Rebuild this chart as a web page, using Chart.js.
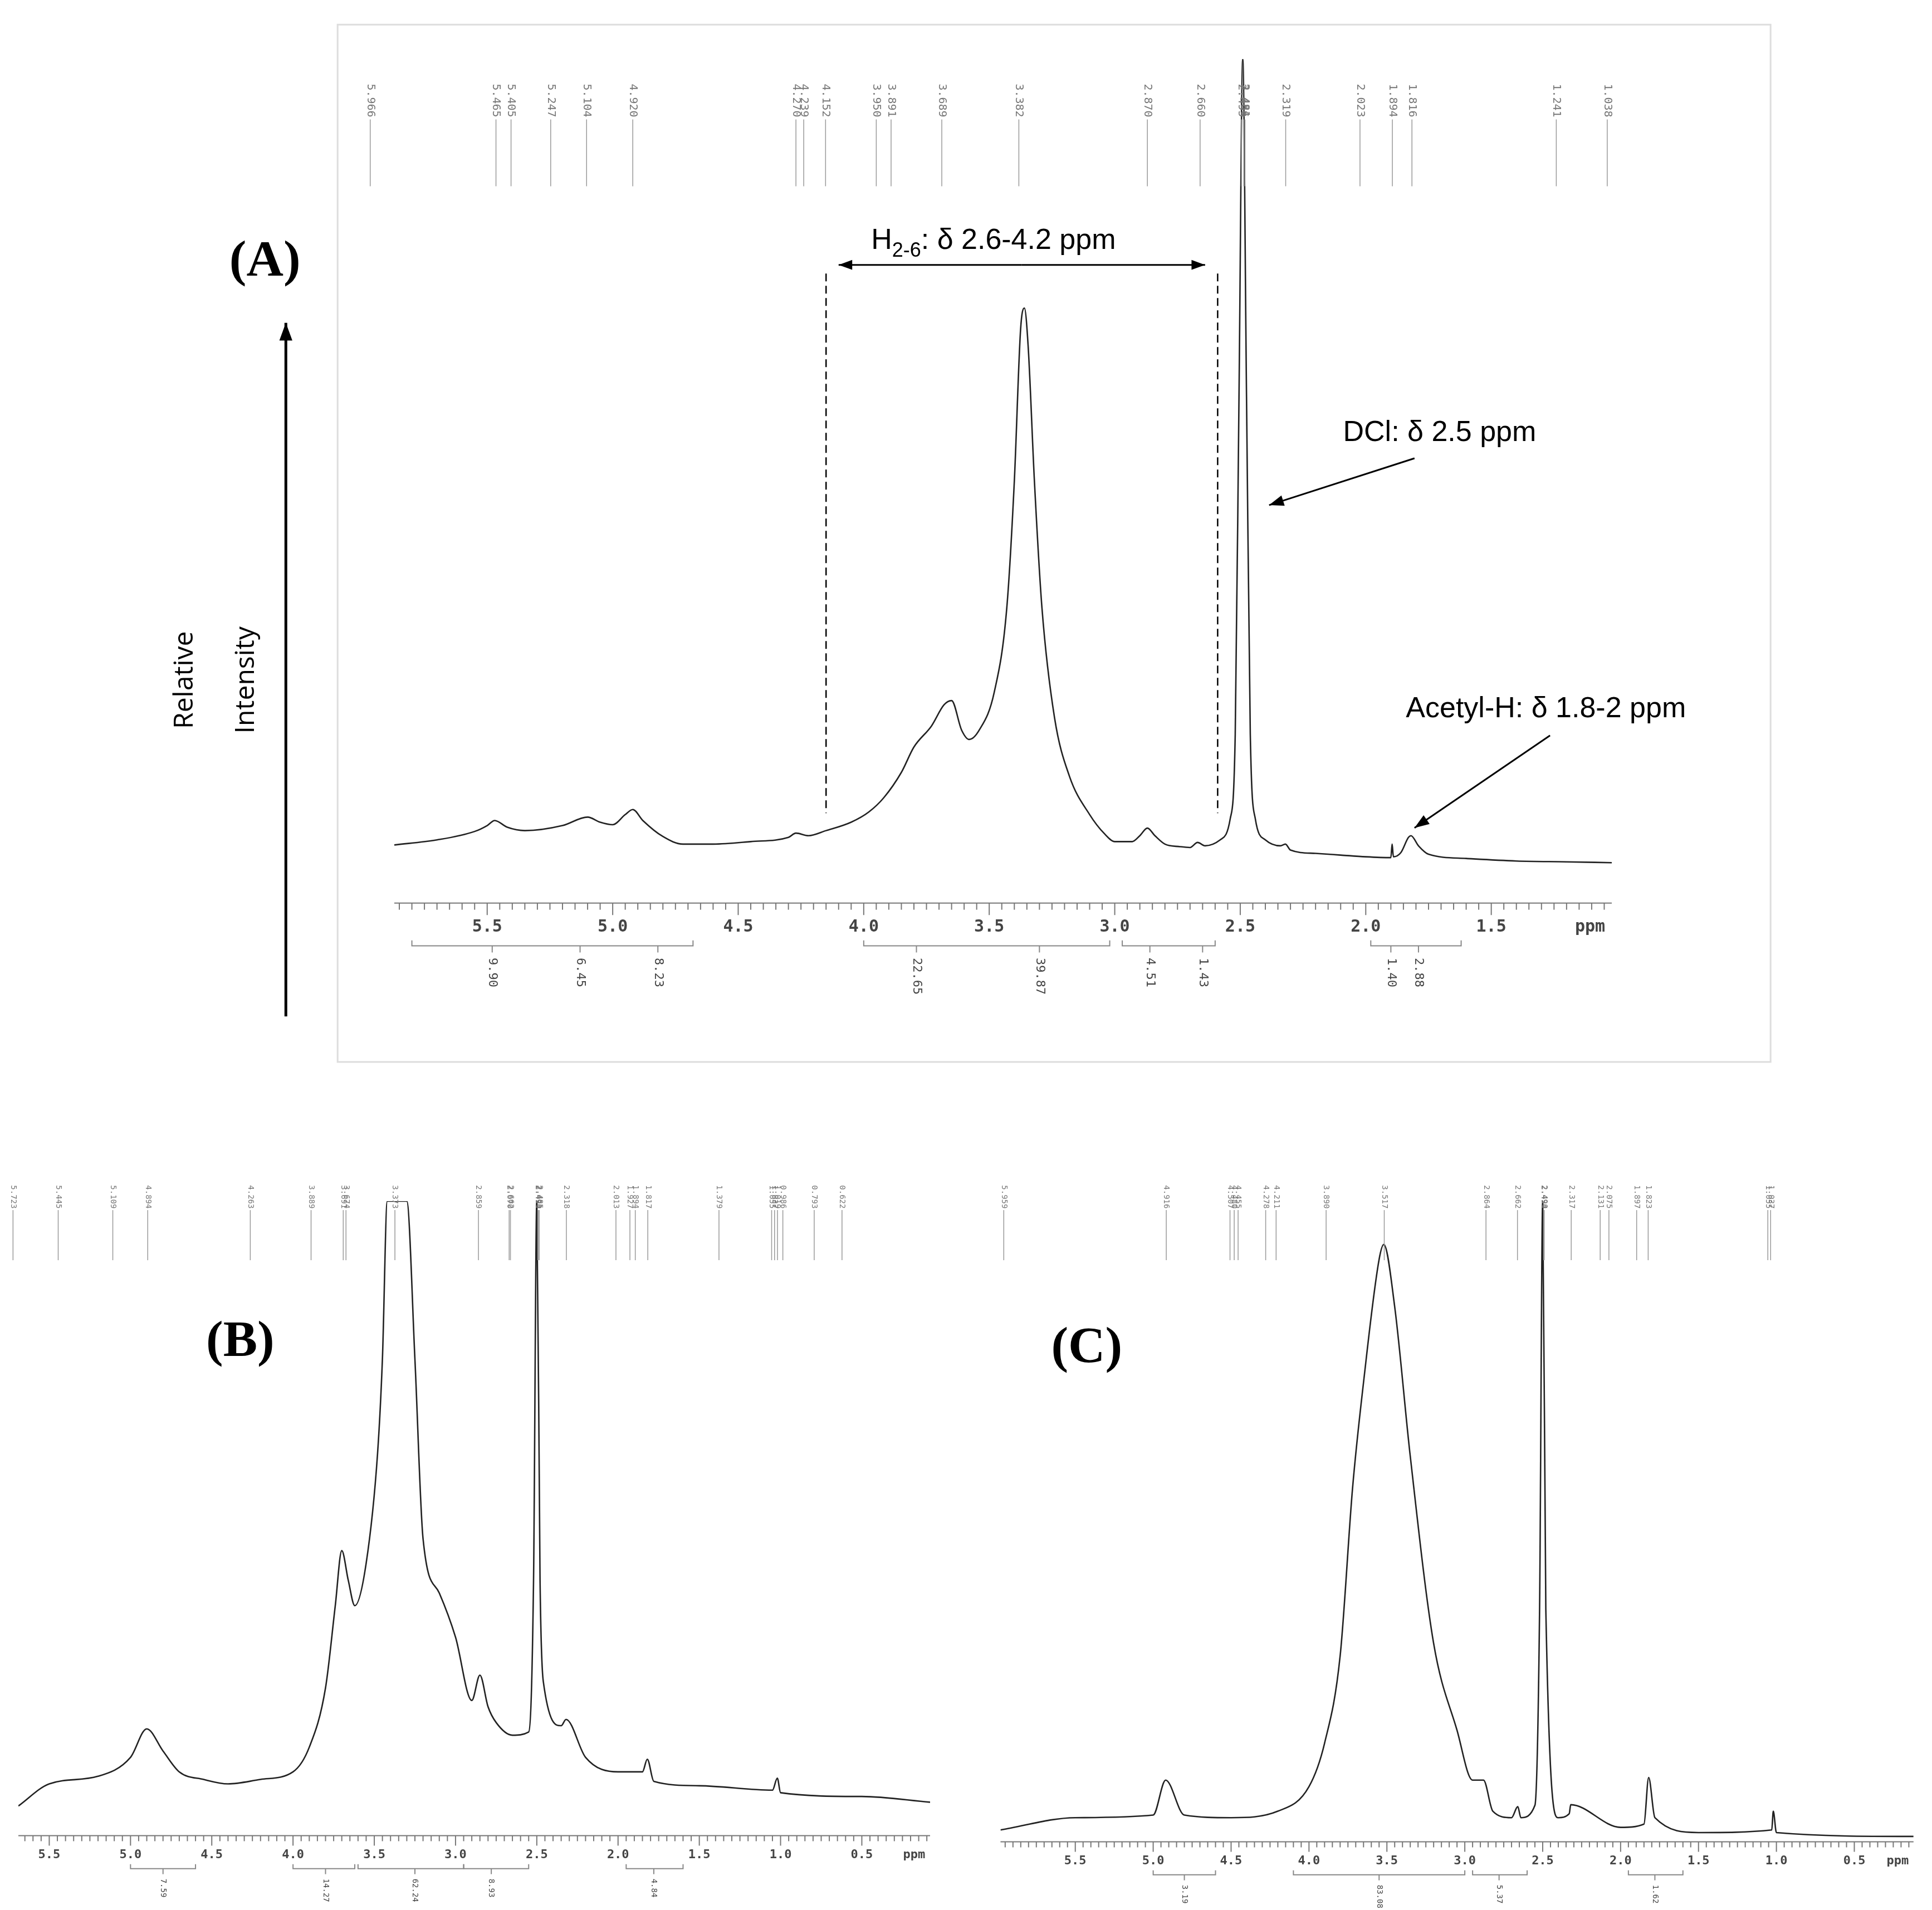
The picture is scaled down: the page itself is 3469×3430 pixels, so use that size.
<!DOCTYPE html>
<html><head><meta charset="utf-8">
<script src="https://cdn.jsdelivr.net/npm/chart.js@4.4.1/dist/chart.umd.min.js"></script>
<style>
html,body{margin:0;padding:0;background:#fff;width:3469px;height:3430px;overflow:hidden}
canvas{position:absolute}
</style></head><body>
<canvas id="cA" width="3469" height="1950" style="left:0;top:0;width:3469px;height:1950px"></canvas>
<canvas id="cB" width="1734" height="1480" style="left:0;top:1950px;width:1734px;height:1480px"></canvas>
<canvas id="cC" width="1735" height="1480" style="left:1734px;top:1950px;width:1735px;height:1480px"></canvas>
<script>
// ---------- DATA ----------
const specA_ppm = [5.87,5.7,5.55,5.5,5.47,5.42,5.35,5.2,5.1,5.05,5.0,4.95,4.92,4.88,4.8,4.72,4.6,4.45,4.3,4.27,4.22,4.15,4.05,3.98,3.92,3.85,3.8,3.73,3.68,3.65,3.61,3.58,3.54,3.48,3.43,3.40,3.375,3.36,3.345,3.32,3.29,3.24,3.18,3.1,3.04,3.0,2.93,2.9,2.87,2.84,2.8,2.74,2.7,2.67,2.64,2.58,2.54,2.52,2.505,2.49,2.475,2.46,2.44,2.4,2.34,2.32,2.3,2.2,2.1,2.0,1.9,1.895,1.89,1.86,1.83,1.82,1.79,1.75,1.6,1.4,1.2,1.02];
const specA_int = [6.9,7.5,8.5,9.2,9.8,9.0,8.6,9.2,10.2,9.6,9.3,10.5,11.1,9.8,7.9,7.0,7.0,7.3,7.8,8.3,8.0,8.6,9.6,10.8,12.5,15.5,18.5,21.0,23.5,24.0,20.5,19.4,20.5,25,35,50,68,70.5,66,50,35,22,15,10.5,8.2,7.3,7.3,8.0,8.9,8.0,7.0,6.7,6.6,7.2,6.8,7.5,10,20,60,100,60,20,10,7.5,6.8,7.0,6.3,5.9,5.7,5.5,5.4,7,5.5,6,7.8,8.0,6.8,5.8,5.3,5.0,4.9,4.8];
const specB_ppm = [5.69,5.5,5.2,5.0,4.9,4.8,4.7,4.55,4.4,4.2,4.0,3.9,3.8,3.74,3.7,3.66,3.62,3.55,3.48,3.45,3.42,3.3,3.25,3.2,3.1,3.0,2.9,2.85,2.8,2.75,2.65,2.55,2.52,2.5,2.48,2.46,2.35,2.32,2.2,2.0,1.85,1.82,1.78,1.5,1.05,1.02,1.0,0.5,0.08];
const specB_int = [4.3,7.8,9.0,12,16.5,13,9.7,8.5,7.8,8.5,9.7,13.6,23,36,44.7,40,36,42.7,60,75,100,100,75,46.6,38,31,21,25,20,17.5,15.5,16,40,100,40,24,17,18,12,9.7,9.7,11.7,8.2,7.5,6.8,8.7,6.4,5.8,4.9];
const specC_ppm = [5.98,5.5,5.0,4.92,4.8,4.5,4.2,4.0,3.9,3.8,3.72,3.65,3.55,3.52,3.45,3.35,3.2,3.05,2.95,2.88,2.82,2.7,2.66,2.64,2.55,2.52,2.5,2.48,2.4,2.33,2.32,2.0,1.85,1.82,1.78,1.5,1.03,1.02,1.0,0.12];
const specC_int = [2.9,4.8,5.2,10.6,5.2,4.8,5.8,9.6,16.3,29.8,55.8,72,91,93.3,83.7,60.6,31.7,18.3,10.6,10.6,5.8,4.8,6.5,4.8,6.7,37,100,37,4.8,5.4,6.8,3.3,3.8,11,4.8,2.5,2.9,5.8,2.5,1.9];

const peaksA = ["5.966","5.465","5.405","5.247","5.104","4.920","4.270","4.239","4.152","3.950","3.891","3.689","3.382","2.870","2.660","2.495","2.481","2.486","2.319","2.023","1.894","1.816","1.241","1.038"];
const peaksB = ["5.723","5.445","5.109","4.894","4.263","3.889","3.691","3.674","3.373","2.859","2.670","2.662","2.494","2.490","2.485","2.318","2.013","1.927","1.894","1.817","1.379","1.055","1.037","1.019","0.986","0.793","0.622"];
const peaksC = ["5.959","4.916","4.507","4.480","4.455","4.278","4.211","3.890","3.517","2.864","2.662","2.494","2.490","2.317","2.131","2.075","1.897","1.823","1.055","1.037"];

const ticksA = ["5.5","5.0","4.5","4.0","3.5","3.0","2.5","2.0","1.5"];
const ticksBC = ["5.5","5.0","4.5","4.0","3.5","3.0","2.5","2.0","1.5","1.0","0.5"];

const integA_from = [5.8,4.0,2.97,1.98], integA_to=[4.68,3.02,2.6,1.62];
const integA_pos = [[5.48,5.13,4.82],[3.79,3.3],[2.86,2.65],[1.9,1.79]];
const integA_val = [["9.90","6.45","8.23"],["22.65","39.87"],["4.51","1.43"],["1.40","2.88"]];
const integB_from=[5.0,4.0,3.6,2.95,1.95], integB_to=[4.6,3.62,2.95,2.55,1.6];
const integB_pos=[[4.8],[3.8],[3.25],[2.78],[1.78]];
const integB_val=[["7.59"],["14.27"],["62.24"],["8.93"],["4.84"]];
const integC_from=[5.0,4.1,2.95,1.95], integC_to=[4.6,3.0,2.6,1.6];
const integC_pos=[[4.8],[3.55],[2.78],[1.78]];
const integC_val=[["3.19"],["83.08"],["5.37"],["1.62"]];

// ---------- helpers ----------
const S = 3469/1568;
const D = v => v*S;
function pts(xs,ys){return xs.map((x,i)=>({x:x,y:ys[i]}));}
function arrow(ctx,x1,y1,x2,y2,h){
  ctx.beginPath();ctx.moveTo(x1,y1);ctx.lineTo(x2,y2);ctx.stroke();
  const a=Math.atan2(y2-y1,x2-x1);
  ctx.beginPath();ctx.moveTo(x2,y2);
  ctx.lineTo(x2-h*Math.cos(a-0.35),y2-h*Math.sin(a-0.35));
  ctx.lineTo(x2-h*Math.cos(a+0.35),y2-h*Math.sin(a+0.35));
  ctx.closePath();ctx.fill();
}
function drawNMR(chart, o){
  const ctx=chart.ctx, xs=chart.scales.x, ca=chart.chartArea;
  ctx.save();
  const ay=o.axisY;
  ctx.strokeStyle='#777';ctx.fillStyle='#444';ctx.lineWidth=2;
  ctx.beginPath();ctx.moveTo(ca.left,ay);ctx.lineTo(ca.right,ay);ctx.stroke();
  const mn=xs.min,mx=xs.max;
  for(let v=Math.ceil(mn*20)/20; v<=mx+1e-9; v+=0.05){
    const x=xs.getPixelForValue(v);
    const major=Math.abs(v*2-Math.round(v*2))<1e-6;
    ctx.beginPath();ctx.moveTo(x,ay);ctx.lineTo(x,ay+(major?o.tk*1.8:o.tk));ctx.stroke();
  }
  ctx.font='bold '+o.tf+'px "DejaVu Sans Mono"';ctx.textAlign='center';ctx.textBaseline='top';
  o.ticks.forEach(t=>{ctx.fillText(t,xs.getPixelForValue(parseFloat(t)),ay+o.tk*2.4);});
  ctx.textAlign='left';ctx.fillText('ppm',ca.right-o.tf*2.2,ay+o.tk*2.4);
  const iy=ay+o.tk*2.4+o.tf*1.6;
  ctx.strokeStyle='#888';ctx.lineWidth=2;
  o.ifrom.forEach((f,i)=>{
    const x1=xs.getPixelForValue(f),x2=xs.getPixelForValue(o.ito[i]);
    ctx.beginPath();ctx.moveTo(x1,iy-o.tk*0.8);ctx.lineTo(x1,iy);ctx.lineTo(x2,iy);ctx.lineTo(x2,iy-o.tk*0.8);ctx.stroke();
    o.ipos[i].forEach((p,j)=>{
      const x=xs.getPixelForValue(p);
      ctx.beginPath();ctx.moveTo(x,iy);ctx.lineTo(x,iy+o.tk);ctx.stroke();
      ctx.save();ctx.translate(x,iy+o.tk*1.8);ctx.rotate(Math.PI/2);
      ctx.font=o.lf+'px "DejaVu Sans Mono"';ctx.textAlign='left';ctx.textBaseline='middle';ctx.fillStyle='#444';
      ctx.fillText(o.ival[i][j],0,0);ctx.restore();
    });
  });
  ctx.strokeStyle='#999';ctx.lineWidth=1.5;ctx.fillStyle='#777';
  o.peaks.forEach(p=>{
    const x=xs.getPixelForValue(parseFloat(p));
    ctx.save();ctx.translate(x,o.py);ctx.rotate(Math.PI/2);
    ctx.font=o.pf+'px "DejaVu Sans Mono"';ctx.textAlign='left';ctx.textBaseline='middle';
    ctx.fillText(p,0,0);ctx.restore();
    ctx.beginPath();ctx.moveTo(x,o.py+o.pf*3.2);ctx.lineTo(x,o.py+o.pf*3.2+o.pl);ctx.stroke();
  });
  ctx.restore();
}
function makeChart(id,xs,ys,pad,xmin,xmax,extra){
  return new Chart(document.getElementById(id),{
    type:'line',
    data:{datasets:[{data:pts(xs,ys),borderColor:'#222',borderWidth:2.6,pointRadius:0,cubicInterpolationMode:'monotone',fill:false}]},
    options:{responsive:false,animation:false,devicePixelRatio:1,
      layout:{padding:pad},
      plugins:{legend:{display:false},tooltip:{enabled:false}},
      scales:{x:{type:'linear',min:xmin,max:xmax,reverse:true,display:false},
              y:{min:0,max:100,display:false}}},
    plugins:[{id:'deco',beforeDraw:c=>{const g=c.ctx;g.save();g.fillStyle='#fff';g.fillRect(0,0,c.width,c.height);g.restore();},afterDraw:extra}]
  });
}

// ---------- Panel A ----------
makeChart('cA',specA_ppm,specA_int,{left:708,right:575,top:106,bottom:328},1.02,5.87,c=>{
  const ctx=c.ctx, xs=c.scales.x;
  ctx.save();
  ctx.strokeStyle='#ddd';ctx.lineWidth=3;ctx.strokeRect(D(274),D(20),D(1163),D(842));
  ctx.restore();
  drawNMR(c,{axisY:D(733),tk:12,tf:30,lf:22,ticks:ticksA,ifrom:integA_from,ito:integA_to,ipos:integA_pos,ival:integA_val,peaks:peaksA,py:D(68),pf:20,pl:120});
  ctx.save();
  ctx.fillStyle='#000';ctx.strokeStyle='#000';
  ctx.font='bold 92px "Liberation Serif"';ctx.textAlign='center';ctx.textBaseline='middle';
  ctx.fillText('(A)',D(215),D(213));
  ctx.lineWidth=5;arrow(ctx,D(232),D(825),D(232),D(262),34);
  ctx.font='48px "Open Sans"';
  [['Relative',150],['Intensity',200]].forEach(([t,x])=>{ctx.save();ctx.translate(D(x),D(552));ctx.rotate(-Math.PI/2);ctx.fillText(t,0,0);ctx.restore();});
  ctx.lineWidth=2.5;ctx.setLineDash([14,8]);
  [4.15,2.59].forEach(p=>{const x=xs.getPixelForValue(p);ctx.beginPath();ctx.moveTo(x,D(222));ctx.lineTo(x,D(660));ctx.stroke();});
  ctx.setLineDash([]);
  const x1=xs.getPixelForValue(4.10),x2=xs.getPixelForValue(2.64);
  ctx.lineWidth=3;arrow(ctx,(x1+x2)/2,D(215),x1,D(215),26);arrow(ctx,(x1+x2)/2,D(215),x2,D(215),26);
  ctx.font='52px "Liberation Sans"';ctx.textAlign='left';ctx.textBaseline='alphabetic';
  let tx=D(707),ty=D(202);
  ctx.fillText('H',tx,ty);tx+=ctx.measureText('H').width;
  ctx.font='36px "Liberation Sans"';ctx.fillText('2-6',tx,ty+14);tx+=ctx.measureText('2-6').width;
  ctx.font='52px "Liberation Sans"';ctx.fillText(': \u03b4 2.6-4.2 ppm',tx,ty);
  ctx.fillText('DCl: \u03b4 2.5 ppm',D(1090),D(358));
  ctx.fillText('Acetyl-H: \u03b4 1.8-2 ppm',D(1141),D(582));
  ctx.lineWidth=3;
  arrow(ctx,D(1148),D(372),D(1030),D(410),28);
  arrow(ctx,D(1258),D(597),D(1148),D(672),28);
  ctx.restore();
});

// ---------- Panel B ----------
makeChart('cB',specB_ppm,specB_int,{left:33,right:64,top:207,bottom:138},0.08,5.69,c=>{
  drawNMR(c,{axisY:D(1490)-1950,tk:10,tf:22,lf:14,ticks:ticksBC,ifrom:integB_from,ito:integB_to,ipos:integB_pos,ival:integB_val,peaks:peaksB,py:D(962)-1950,pf:14,pl:90});
  const ctx=c.ctx;ctx.save();ctx.fillStyle='#000';
  ctx.font='bold 92px "Liberation Serif"';ctx.textAlign='center';ctx.textBaseline='middle';
  ctx.fillText('(B)',D(195),D(1090)-1950);ctx.restore();
});

// ---------- Panel C ----------
makeChart('cC',specC_ppm,specC_int,{left:D(812)-1734,right:1735-(D(1553)-1734),top:207,bottom:110},0.12,5.98,c=>{
  drawNMR(c,{axisY:D(1495)-1950,tk:10,tf:22,lf:14,ticks:ticksBC,ifrom:integC_from,ito:integC_to,ipos:integC_pos,ival:integC_val,peaks:peaksC,py:D(962)-1950,pf:14,pl:90});
  const ctx=c.ctx;ctx.save();ctx.fillStyle='#000';
  ctx.font='bold 92px "Liberation Serif"';ctx.textAlign='center';ctx.textBaseline='middle';
  ctx.fillText('(C)',D(882)-1734,D(1095)-1950);ctx.restore();
});
</script></body></html>
